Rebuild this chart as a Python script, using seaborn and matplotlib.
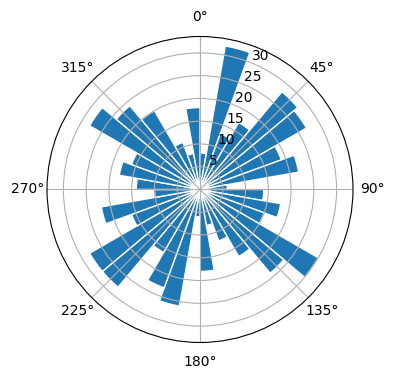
import numpy as np
import matplotlib
matplotlib.use("Agg")
import matplotlib.pyplot as plt
import seaborn as sns

# bin centres (degrees) and counts
angles_deg = [5, 15, 25, 35, 45, 55, 65, 75, 85, 95, 105, 115,
              125, 135, 145, 155, 165, 175, 185, 195, 205, 215, 225, 235,
              245, 255, 265, 275, 285, 295, 305, 315, 325, 335, 345, 355]
counts = [8, 32, 13, 17, 28, 27, 19, 22, 6, 14, 18, 15,
          30, 24, 17, 12, 8, 18, 6, 26, 23, 16, 28, 28,
          16, 22, 10, 14, 18, 16, 28, 24, 20, 11, 8, 18]

color = sns.color_palette("tab10")[0]

fig = plt.figure(figsize=(3.96, 3.80), dpi=100)
ax = fig.add_axes([0.1187, 0.0987, 0.7727, 0.8053], projection="polar")
ax.set_theta_zero_location("N")
ax.set_theta_direction(-1)

theta = np.deg2rad(angles_deg)
ax.bar(theta, counts, width=np.deg2rad(10), color=color,
       edgecolor="white", linewidth=1)
ax.set_yticks([5, 10, 15, 20, 25, 30])

fig.savefig("out.png", dpi=100)
